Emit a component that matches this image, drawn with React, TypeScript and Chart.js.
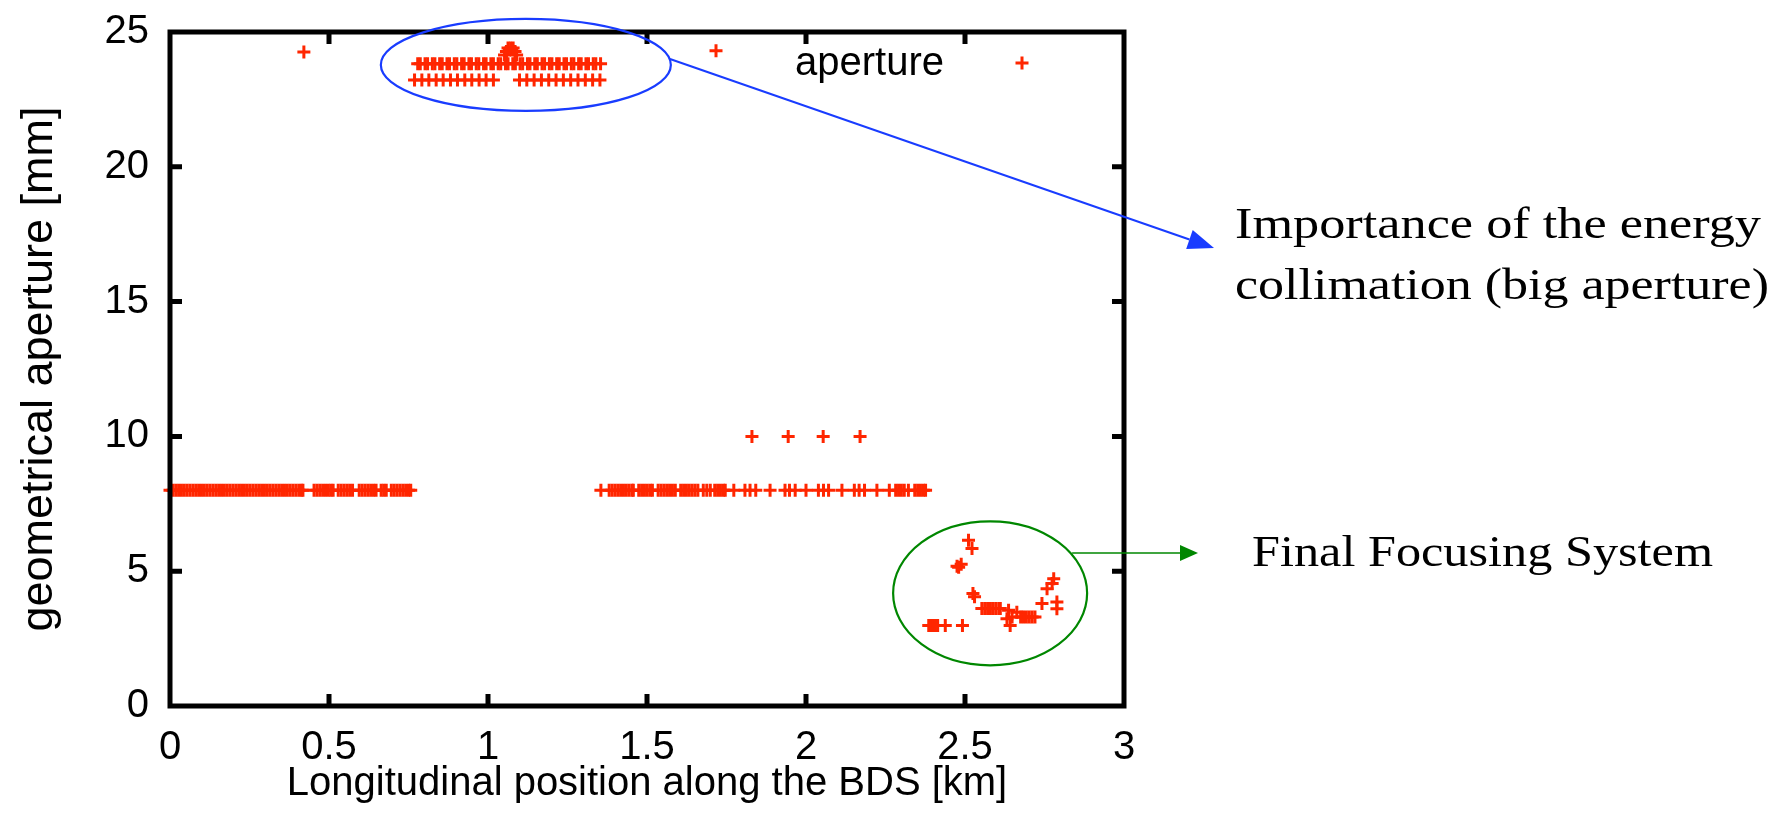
import React, { useEffect, useRef } from "react";
import { Chart, registerables } from "chart.js";

Chart.register(...registerables);

// ---------------- data ----------------
const SERIES_LABEL = "aperture";
const X_TITLE = "Longitudinal position along the BDS [km]";
const Y_TITLE = "geometrical aperture [mm]";
const X_TICK_VALUES = [0, 0.5, 1, 1.5, 2, 2.5, 3];
const X_TICK_LABELS = ["0", "0.5", "1", "1.5", "2", "2.5", "3"];
const Y_TICK_VALUES = [0, 5, 10, 15, 20, 25];
const Y_TICK_LABELS = ["0", "5", "10", "15", "20", "25"];

// beam line at 8 mm (before collimation)
const LEVEL_8 = 8;
const band8LeftX = [
  0, 0.009, 0.018, 0.027, 0.036, 0.045, 0.054, 0.063, 0.072, 0.081, 0.09, 0.099,
  0.108, 0.117, 0.126, 0.135, 0.144, 0.153, 0.162, 0.171, 0.18, 0.189, 0.198,
  0.207, 0.216, 0.225, 0.234, 0.243, 0.252, 0.261, 0.27, 0.279, 0.288, 0.297,
  0.306, 0.315, 0.324, 0.333, 0.342, 0.351, 0.36, 0.369, 0.378, 0.387, 0.396,
  0.405, 0.413, 0.418,
  0.453, 0.462, 0.471, 0.48, 0.489, 0.498, 0.506, 0.513,
  0.529, 0.538, 0.547, 0.556, 0.565, 0.574,
  0.595, 0.604, 0.613, 0.622, 0.631, 0.64, 0.648,
  0.664, 0.672, 0.68,
  0.696, 0.705, 0.714, 0.723, 0.732, 0.741, 0.75, 0.757,
];
// beam line at 8 mm (after collimation)
const band8RightX = [
  1.355,
  1.381, 1.39, 1.399, 1.408, 1.417, 1.426, 1.435, 1.444, 1.453, 1.457,
  1.474, 1.483, 1.492, 1.501, 1.51, 1.517,
  1.535, 1.544, 1.553, 1.562, 1.571, 1.58, 1.589,
  1.606, 1.615, 1.624, 1.633, 1.642, 1.651, 1.66,
  1.677, 1.688, 1.699,
  1.713, 1.722, 1.731, 1.74, 1.746,
  1.773, 1.808, 1.824, 1.842, 1.887, 1.934, 1.948, 1.966, 2.0,
  2.039, 2.055, 2.071, 2.113, 2.152, 2.167, 2.184, 2.223, 2.262,
  2.282, 2.291, 2.3, 2.309, 2.322,
  2.342, 2.351, 2.36, 2.369, 2.376,
];
const LEVEL_10 = 10;
const level10X = [1.83, 1.944, 2.054, 2.17];

// energy collimation section
const COLL_UPPER_Y = 23.82;
const collUpperX = [
  0.779, 0.787, 0.802, 0.81, 0.825, 0.833, 0.848, 0.856, 0.871, 0.879, 0.894,
  0.902, 0.917, 0.925, 0.94, 0.948, 0.963, 0.971, 0.986, 0.994, 1.009, 1.017,
  1.032, 1.04, 1.055, 1.063, 1.078, 1.086, 1.101, 1.109, 1.124, 1.132, 1.147,
  1.155, 1.17, 1.178, 1.193, 1.201, 1.216, 1.224, 1.239, 1.247, 1.262, 1.27,
  1.285, 1.293, 1.308, 1.316, 1.331, 1.339, 1.354,
];
const COLL_LOWER_Y = 23.22;
const collLowerX = [
  0.769, 0.792, 0.814, 0.837, 0.859, 0.882, 0.904, 0.927, 0.949, 0.972, 0.994,
  1.017,
  1.099, 1.122, 1.145, 1.168, 1.191, 1.214, 1.237, 1.26, 1.283, 1.306, 1.329,
  1.352,
];
const peakX = [1.063, 1.071, 1.079, 1.052, 1.09, 1.058, 1.085];
const peakY = [24.41, 24.41, 24.41, 24.15, 24.15, 24.28, 24.28];
const isolatedX = [0.421, 1.717];
const isolatedY = [24.26, 24.3];

// final focusing system
const ffsX = [
  2.511, 2.522, 2.475, 2.48, 2.488, 2.525, 2.53,
  2.553, 2.562, 2.571, 2.58, 2.589, 2.598, 2.607, 2.611,
  2.637, 2.648, 2.632, 2.642, 2.663,
  2.675, 2.684, 2.693, 2.702, 2.711, 2.72,
  2.742, 2.758, 2.774, 2.779, 2.789, 2.789,
  2.386, 2.393, 2.4, 2.407, 2.414, 2.438, 2.492,
];
const ffsY = [
  6.15, 5.84, 5.18, 5.15, 5.26, 4.17, 4.05,
  3.62, 3.62, 3.62, 3.62, 3.62, 3.62, 3.62, 3.62,
  3.55, 3.3, 3.24, 2.99, 3.48,
  3.3, 3.3, 3.3, 3.3, 3.3, 3.3,
  3.8, 4.35, 4.54, 4.72, 3.86, 3.61,
  2.99, 2.99, 2.99, 2.99, 2.99, 2.99, 2.99,
];

// ---------------- styles ----------------
const RED = "rgb(255,38,0)";
const BLUE = "rgb(25,60,255)";
const GREEN = "rgb(0,135,0)";
const SANS = '"Liberation Sans", Arial, Helvetica, sans-serif';
const SERIF = '"Liberation Serif", "Times New Roman", serif';
const W = 1776;
const H = 828;

function buildPoints() {
  const pts: { x: number; y: number }[] = [];
  band8LeftX.forEach((x) => pts.push({ x, y: LEVEL_8 }));
  band8RightX.forEach((x) => pts.push({ x, y: LEVEL_8 }));
  level10X.forEach((x) => pts.push({ x, y: LEVEL_10 }));
  collUpperX.forEach((x) => pts.push({ x, y: COLL_UPPER_Y }));
  collLowerX.forEach((x) => pts.push({ x, y: COLL_LOWER_Y }));
  peakX.forEach((x, i) => pts.push({ x, y: peakY[i] }));
  isolatedX.forEach((x, i) => pts.push({ x, y: isolatedY[i] }));
  ffsX.forEach((x, i) => pts.push({ x, y: ffsY[i] }));
  return pts;
}

function drawCross(ctx: CanvasRenderingContext2D, x: number, y: number, r: number) {
  ctx.beginPath();
  ctx.moveTo(x - r, y);
  ctx.lineTo(x + r, y);
  ctx.moveTo(x, y - r);
  ctx.lineTo(x, y + r);
  ctx.stroke();
}

function arrow(
  ctx: CanvasRenderingContext2D,
  x0: number, y0: number, x1: number, y1: number,
  color: string, lw: number, headLen: number, headHalf: number
) {
  const a = Math.atan2(y1 - y0, x1 - x0);
  const bx = x1 - headLen * Math.cos(a);
  const by = y1 - headLen * Math.sin(a);
  ctx.strokeStyle = color;
  ctx.fillStyle = color;
  ctx.lineWidth = lw;
  ctx.beginPath();
  ctx.moveTo(x0, y0);
  ctx.lineTo(bx, by);
  ctx.stroke();
  ctx.beginPath();
  ctx.moveTo(x1, y1);
  ctx.lineTo(bx + headHalf * Math.sin(a), by - headHalf * Math.cos(a));
  ctx.lineTo(bx - headHalf * Math.sin(a), by + headHalf * Math.cos(a));
  ctx.closePath();
  ctx.fill();
}

function fitText(ctx: CanvasRenderingContext2D, text: string, x: number, baseline: number, width: number) {
  const m = ctx.measureText(text).width;
  ctx.save();
  ctx.translate(x, baseline);
  ctx.scale(width / m, 1);
  ctx.fillText(text, 0, 0);
  ctx.restore();
}

const framePlugin = {
  id: "frameAndNotes",
  afterDraw(chart: any) {
    const { ctx, chartArea } = chart;
    const xs = chart.scales.x;
    const ys = chart.scales.y;
    const { left, right, top, bottom } = chartArea;
    ctx.save();
    // frame
    ctx.strokeStyle = "#000";
    ctx.lineWidth = 5;
    ctx.strokeRect(left, top, right - left, bottom - top);
    // inward ticks on all four sides
    const tl = 12;
    ctx.beginPath();
    xs.ticks.forEach((t: any) => {
      if (t.value <= xs.min || t.value >= xs.max) return;
      const px = xs.getPixelForValue(t.value);
      ctx.moveTo(px, bottom);
      ctx.lineTo(px, bottom - tl);
      ctx.moveTo(px, top);
      ctx.lineTo(px, top + tl);
    });
    ys.ticks.forEach((t: any) => {
      if (t.value <= ys.min || t.value >= ys.max) return;
      const py = ys.getPixelForValue(t.value);
      ctx.moveTo(left, py);
      ctx.lineTo(left + tl, py);
      ctx.moveTo(right, py);
      ctx.lineTo(right - tl, py);
    });
    ctx.stroke();

    // key
    ctx.fillStyle = "#000";
    ctx.font = `40px ${SANS}`;
    ctx.textAlign = "right";
    ctx.textBaseline = "alphabetic";
    ctx.fillText(chart.data.datasets[0].label, 944, 75);
    ctx.strokeStyle = RED;
    ctx.lineWidth = 3;
    drawCross(ctx, 1022, 63, 6.5);

    // annotations: energy collimation
    const c1x = xs.getPixelForValue(1.119);
    const c1y = ys.getPixelForValue(23.78);
    ctx.strokeStyle = BLUE;
    ctx.lineWidth = 2.2;
    ctx.beginPath();
    ctx.ellipse(c1x, c1y, 145, 46, 0, 0, Math.PI * 2);
    ctx.stroke();
    arrow(ctx, 670, 59, 1214, 248, BLUE, 2, 26, 10);

    // annotations: final focus
    const c2x = xs.getPixelForValue(2.579);
    const c2y = ys.getPixelForValue(4.18);
    ctx.strokeStyle = GREEN;
    ctx.lineWidth = 2.2;
    ctx.beginPath();
    ctx.ellipse(c2x, c2y, 97, 72, 0, 0, Math.PI * 2);
    ctx.stroke();
    arrow(ctx, c2x + 82, 553, 1198, 553, GREEN, 1.6, 18, 8);

    ctx.fillStyle = "#000";
    ctx.font = `44px ${SERIF}`;
    ctx.textAlign = "left";
    fitText(ctx, "Importance of the energy", 1235, 238, 526);
    fitText(ctx, "collimation (big aperture)", 1235, 299, 534);
    fitText(ctx, "Final Focusing System", 1252, 566, 461);
    ctx.restore();
  },
};

export default function App() {
  const ref = useRef<HTMLCanvasElement | null>(null);

  useEffect(() => {
    if (!ref.current) return;
    Chart.defaults.color = "#000";
    const chart = new Chart(ref.current, {
      type: "scatter",
      data: {
        datasets: [
          {
            label: SERIES_LABEL,
            data: buildPoints(),
            pointStyle: "cross",
            pointRadius: 6.5,
            pointHoverRadius: 6.5,
            pointBorderWidth: 3,
            pointHoverBorderWidth: 3,
            borderColor: RED,
            backgroundColor: RED,
            showLine: false,
            clip: false,
          } as any,
        ],
      },
      options: {
        responsive: false,
        animation: false,
        events: [],
        devicePixelRatio: 1,
        layout: { padding: { left: 0, right: W - 1124, top: 32, bottom: 0 } },
        plugins: {
          legend: { display: false },
          tooltip: { enabled: false },
          title: { display: false },
        },
        scales: {
          x: {
            type: "linear",
            min: 0,
            max: 3,
            afterBuildTicks: (s: any) => {
              s.ticks = X_TICK_VALUES.map((v) => ({ value: v }));
            },
            afterFit: (s: any) => {
              s.height = H - 706;
            },
            ticks: {
              autoSkip: false,
              maxRotation: 0,
              padding: 0,
              font: { family: SANS, size: 40 },
              color: "#000",
              callback: (v: any) => X_TICK_LABELS[X_TICK_VALUES.indexOf(Number(v))] ?? "",
            },
            grid: {
              display: true,
              drawOnChartArea: false,
              drawTicks: true,
              tickLength: 18,
              tickColor: "rgba(0,0,0,0)",
            },
            border: { display: false },
            title: {
              display: true,
              text: X_TITLE,
              font: { family: SANS, size: 40 },
              color: "#000",
              padding: { top: 0, bottom: 20 },
            },
          },
          y: {
            type: "linear",
            min: 0,
            max: 25,
            afterBuildTicks: (s: any) => {
              s.ticks = Y_TICK_VALUES.map((v) => ({ value: v }));
            },
            afterFit: (s: any) => {
              s.width = 170;
            },
            ticks: {
              autoSkip: false,
              padding: 0,
              font: { family: SANS, size: 40 },
              color: "#000",
              callback: (v: any) => Y_TICK_LABELS[Y_TICK_VALUES.indexOf(Number(v))] ?? "",
            },
            grid: {
              display: true,
              drawOnChartArea: false,
              drawTicks: true,
              tickLength: 21,
              tickColor: "rgba(0,0,0,0)",
            },
            border: { display: false },
            title: {
              display: true,
              text: Y_TITLE,
              font: { family: SANS, size: 45 },
              color: "#000",
              padding: { top: 13, bottom: 0 },
            },
          },
        },
      },
      plugins: [framePlugin],
    });
    return () => chart.destroy();
  }, []);

  return (
    <div style={{ position: "absolute", left: 0, top: 0, width: W, height: H, background: "#fff" }}>
      <canvas ref={ref} width={W} height={H} style={{ width: W, height: H, display: "block" }} />
    </div>
  );
}
